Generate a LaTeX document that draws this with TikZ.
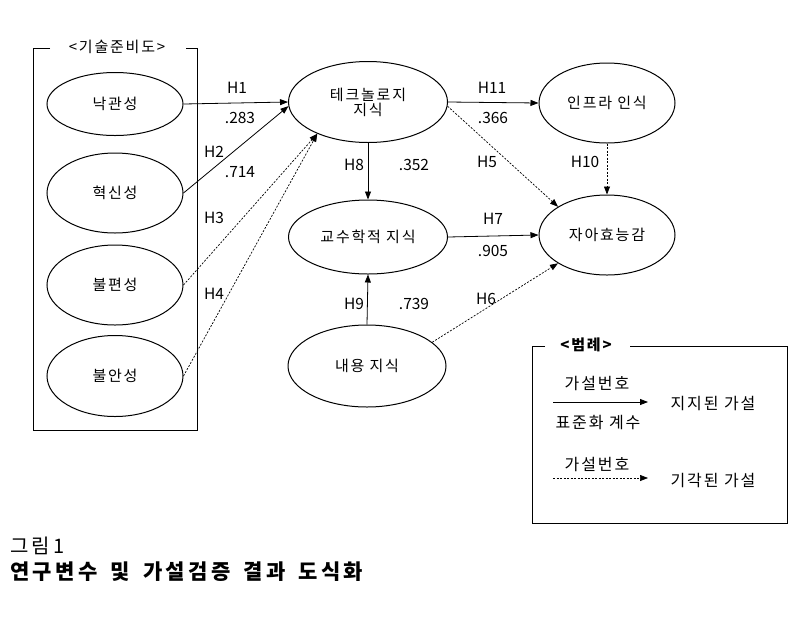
\documentclass[tikz,border=0pt]{standalone}
\usepackage{fontspec}
\setmainfont{Noto Sans CJK KR}
\newfontfamily\krs[LetterSpace=12]{Noto Sans CJK KR}
\newfontfamily\krc[LetterSpace=16,WordSpace=1.6]{Noto Sans CJK KR}
\usetikzlibrary{shapes.geometric,arrows.meta}
\begin{document}
\begin{tikzpicture}[x=1pt,y=-1pt,
  var/.style={draw,ellipse,line width=1pt,inner sep=0pt,font=\krs\fontsize{15}{17}\selectfont,align=center},
  lab/.style={font=\fontsize{15.5}{17}\selectfont,inner sep=1pt},
  leg/.style={font=\krs\fontsize{16}{18}\selectfont,inner sep=1pt},
  sup/.style={line width=0.8pt,-{Triangle[length=8pt,width=6pt]}},
  rej/.style={line width=0.7pt,dash pattern=on 2pt off 1.5pt,-{Triangle[length=8pt,width=6pt]}},
  frame/.style={line width=1pt}]
\useasboundingbox (0,0) rectangle (801,625);
% left group
\draw[frame] (50,48) -- (33,48) -- (33,430) -- (197,430) -- (197,48) -- (186,48);
\node[lab,font=\krs\fontsize{15}{17}\selectfont] (gtitle) at (117,47) {<기술준비도>};
\node[var,minimum width=136pt,minimum height=63pt] (nak) at (115,104) {낙관성};
\node[var,minimum width=136pt,minimum height=80pt] (hyeok) at (115,193) {혁신성};
\node[var,minimum width=136pt,minimum height=80pt] (bulp) at (115,285) {불편성};
\node[var,minimum width=136pt,minimum height=81pt] (bula) at (115,376) {불안성};
% middle
\node[var,minimum width=159pt,minimum height=81pt] (tech) at (368,102) {테크놀로지\\[-2pt]지식};
\node[var,minimum width=159pt,minimum height=74pt] (peda) at (368,237) {교수학적 지식};
\node[var,minimum width=158pt,minimum height=82pt] (cont) at (367,366) {내용 지식};
% right
\node[var,minimum width=136pt,minimum height=80pt] (infra) at (607,103) {인프라 인식};
\node[var,minimum width=136pt,minimum height=80pt] (self) at (607,235) {자아효능감};
% connectors
\draw[sup] (nak.east) -- (tech.west);
\draw[sup] (hyeok.east) -- (tech.183);
\draw[rej] (bulp.east) -- (tech.212);
\draw[rej] (bula.east) -- (tech.212);
\draw[sup] (tech.south) -- (peda.north);
\draw[sup] (cont.north) -- (peda.south);
\draw[sup] (tech.east) -- (infra.west);
\draw[rej] (tech.-3) -- (self.150);
\draw[rej] (infra.south) -- (self.north);
\draw[sup] (peda.east) -- (self.west);
\draw[rej] (cont.20) -- (self.210);
% labels
\node[lab] (h1) at (237,88) {H1};
\node[lab] (c1) at (240,118) {.283};
\node[lab] (h2) at (214,152) {H2};
\node[lab] (c2) at (240,172) {.714};
\node[lab] (h3) at (214,218) {H3};
\node[lab] (h4) at (214,294) {H4};
\node[lab] (h8) at (354,165) {H8};
\node[lab] (c8) at (414,165) {.352};
\node[lab] (h9) at (354,304) {H9};
\node[lab] (c9) at (414,304) {.739};
\node[lab] (h11) at (492,88) {H11};
\node[lab] (c11) at (493,118) {.366};
\node[lab] (h5) at (487,162) {H5};
\node[lab] (h10) at (585,162) {H10};
\node[lab] (h7) at (493,219) {H7};
\node[lab] (c7) at (493,251) {.905};
\node[lab] (h6) at (486,299) {H6};
% legend
\draw[frame] (545,346) -- (532,346) -- (532,523) -- (787,523) -- (787,346) -- (630,346);
\node[lab,font=\krs\fontsize{15}{17}\selectfont\bfseries] (ltitle) at (586,345) {<범례>};
\coordinate (la1) at (553,402);
\coordinate (lb1) at (648,402);
\draw[sup] (la1) -- (lb1);
\node[leg] (lhyp1) at (597,383) {가설번호};
\node[leg] (lcoef) at (598,422) {표준화 계수};
\node[leg] (lsup) at (713,403) {지지된 가설};
\coordinate (la2) at (553,478);
\coordinate (lb2) at (648,478);
\draw[rej] (la2) -- (lb2);
\node[leg] (lhyp2) at (597,464) {가설번호};
\node[leg] (lrej) at (713,480) {기각된 가설};
% caption
\node[anchor=west,inner sep=0pt,font=\krc\fontsize{20}{22}\selectfont] (cap1) at (10,546) {그림1};
\node[anchor=west,inner sep=0pt,font=\krc\fontsize{21}{23}\selectfont\bfseries] (cap2) at (10,572) {연구변수 및 가설검증 결과 도식화};
\end{tikzpicture}
\end{document}
